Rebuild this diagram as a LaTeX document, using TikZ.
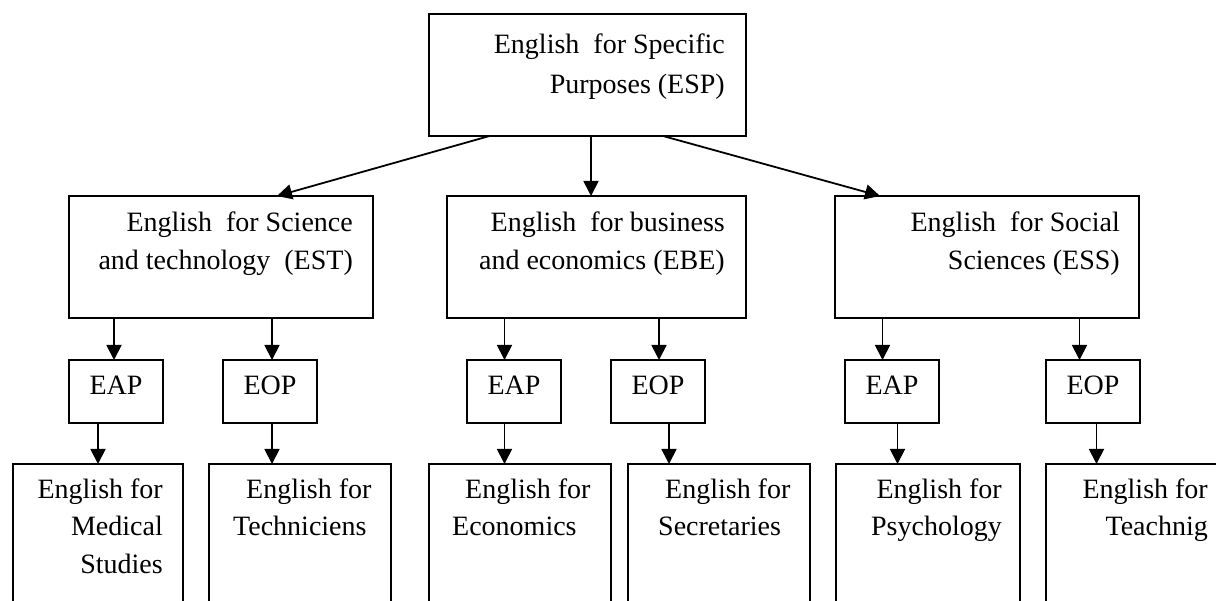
\documentclass[tikz,border=0pt]{standalone}
\usepackage{fontspec}
\setmainfont{Liberation Serif}
\usetikzlibrary{arrows.meta}

\begin{document}
\begin{tikzpicture}[
    x=1pt, y=-1pt,
    font=\fontsize{28}{37.5}\selectfont,
    box/.style={draw, line width=1.8pt, anchor=north west, inner sep=0pt, outer sep=0pt},
    area/.style={box, minimum width=#1, minimum height=122pt},
    tag/.style={box, minimum width=94pt, minimum height=63pt, text depth=12pt},
    leaf/.style={box, minimum width=#1, minimum height=200pt},
    rtext/.style={inner sep=0pt, align=right, anchor=base east},
    ltext/.style={inner sep=0pt, align=left, anchor=base west},
    arr/.style={-{Triangle[length=15pt,width=15pt]}, line width=1.8pt}
]
\useasboundingbox (0,0) rectangle (1216,601);
\clip (0,0) rectangle (1216,601);

% top box
\node[area=317pt] (esp) at (429,14) {};

% the three branches
\node[area=304pt] (est) at (69,196) {};
\node[area=299pt] (ebe) at (447,196) {};
\node[area=304pt] (ess) at (835,196) {};

% EAP / EOP under each branch
\node[tag] (esteap) at (69,360) {EAP};
\node[tag] (esteop) at (223,360) {EOP};
\node[tag] (ebeeap) at (467,360) {EAP};
\node[tag] (ebeeop) at (611,360) {EOP};
\node[tag] (esseap) at (845,360) {EAP};
\node[tag] (esseop) at (1046,360) {EOP};

% leaves (run off the bottom)
\node[leaf=170pt] (medical) at (13,464) {};
\node[leaf=182pt] (technic) at (209,464) {};
\node[leaf=182pt] (econ) at (429,464) {};
\node[leaf=182pt] (secret) at (628,464) {};
\node[leaf=184pt] (psych) at (836,464) {};
\node[leaf=182pt] (teach) at (1046,464) {};

% box texts (base = last line)
\node[rtext] (esp-t) at ([xshift=-21pt,yshift=-80pt]esp.north east)
    {English~~for Specific\\[3pt]Purposes (ESP)};
\node[rtext] (est-t) at ([xshift=-20pt,yshift=-73.5pt]est.north east)
    {English~~for Science\\and technology~~(EST)};
\node[rtext] (ebe-t) at ([xshift=-21pt,yshift=-73.5pt]ebe.north east)
    {English~~for business\\and economics (EBE)};
\node[rtext] (ess-t) at ([xshift=-19pt,yshift=-73.5pt]ess.north east)
    {English~~for Social\\Sciences (ESS)};
\node[rtext] (medical-t) at ([xshift=-20pt,yshift=-109pt]medical.north east)
    {English for\\Medical\\Studies};
\node[ltext] (technic-t) at ([xshift=24pt,yshift=-71.5pt]technic.north west)
    {\hspace*{13pt}English for\\Techniciens};
\node[ltext] (econ-t) at ([xshift=23pt,yshift=-71.5pt]econ.north west)
    {\hspace*{13pt}English for\\Economics};
\node[ltext] (secret-t) at ([xshift=30pt,yshift=-71.5pt]secret.north west)
    {\hspace*{7pt}English for\\Secretaries};
\node[rtext] (psych-t) at ([xshift=-18pt,yshift=-71.5pt]psych.north east)
    {English for\\Psychology};
\node[rtext] (teach-t) at ([xshift=162pt,yshift=-71.5pt]teach.north west)
    {English for\\Teachnig};

% ESP to branches
\draw[arr] ([xshift=-98pt]esp.south) -- ([xshift=56pt]est.north);
\draw[arr] ([xshift=3.5pt]esp.south) -- ([xshift=-5.5pt]ebe.north);
\draw[arr] ([xshift=75.5pt]esp.south) -- ([xshift=-107pt]ess.north);

% branches to EAP / EOP
\foreach \up/\low/\dx in {est/esteap/-2, est/esteop/2, ebe/ebeeap/-9.5,
                          ebe/ebeeop/1, ess/esseap/-9.5, ess/esseop/-13.5}
  \draw[arr] ([xshift=\dx pt]\low.north |- \up.south) -- ([xshift=\dx pt]\low.north);

% EAP / EOP to leaves
\foreach \up/\low/\dx in {esteap/medical/-18, esteop/technic/2, ebeeap/econ/-9.5,
                          ebeeop/secret/11, esseap/psych/5.5, esseop/teach/3.5}
  \draw[arr] ([xshift=\dx pt]\up.south) -- ([xshift=\dx pt]\up.south |- \low.north);

\end{tikzpicture}
\end{document}
